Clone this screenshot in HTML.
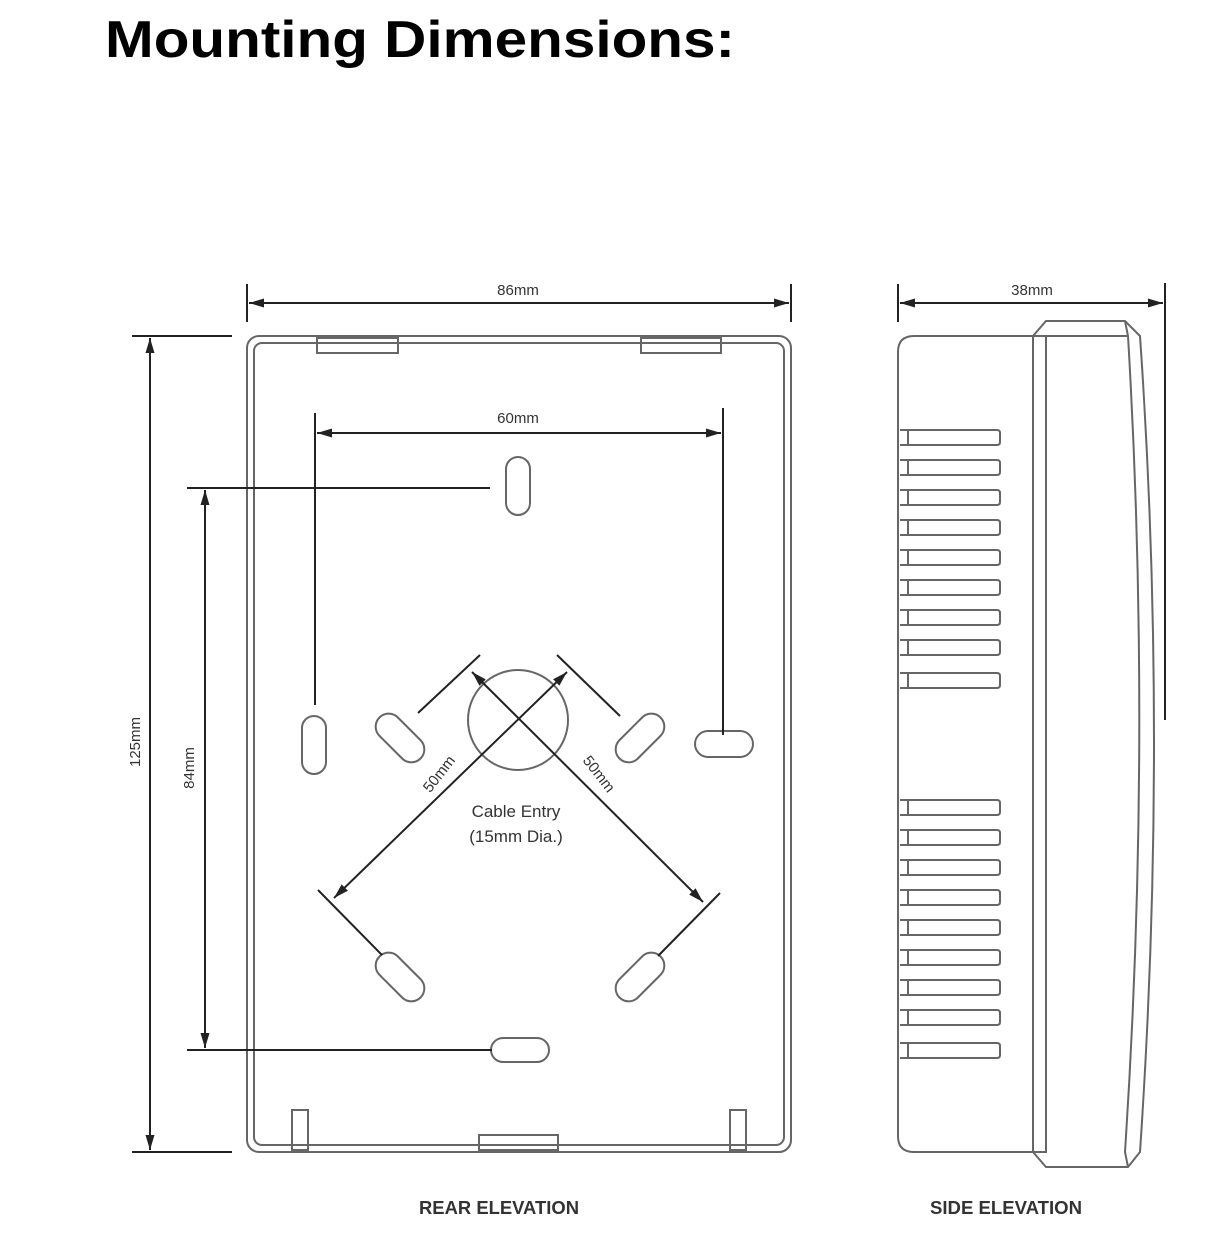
<!DOCTYPE html>
<html><head><style>
body{margin:0;background:#fff;width:1230px;height:1244px;overflow:hidden}
svg{display:block}
</style></head><body>
<svg width="1230" height="1244" viewBox="0 0 1230 1244" xmlns="http://www.w3.org/2000/svg">
<defs>
<marker id="a" viewBox="0 0 10 6" refX="10" refY="3" markerWidth="24" markerHeight="9" markerUnits="userSpaceOnUse" orient="auto-start-reverse"><path d="M0,0 L10,3 L0,6z" fill="#222"/></marker>
</defs>
<text x="105" y="57" font-family="Liberation Sans, sans-serif" font-weight="bold" font-size="52" fill="#000" textLength="630" lengthAdjust="spacingAndGlyphs">Mounting Dimensions:</text>
<g fill="none" stroke="#666" stroke-width="2">
<rect x="247" y="336" width="544" height="816" rx="12"/>
<rect x="254" y="343" width="530" height="802" rx="8"/>
<rect x="317" y="338" width="81" height="15"/>
<rect x="641" y="338" width="80" height="15"/>
<rect x="479" y="1135" width="79" height="15"/>
<rect x="292" y="1110" width="16" height="40"/>
<rect x="730" y="1110" width="16" height="40"/>
<rect x="506" y="457" width="24" height="58" rx="12"/>
<rect x="491" y="1038" width="58" height="24" rx="12"/>
<rect x="302" y="716" width="24" height="58" rx="12"/>
<rect x="695" y="731" width="58" height="26" rx="13"/>
<rect x="371" y="725" width="58" height="26" rx="13" transform="rotate(45 400 738)"/>
<rect x="611" y="725" width="58" height="26" rx="13" transform="rotate(-45 640 738)"/>
<rect x="371" y="964" width="58" height="26" rx="13" transform="rotate(45 400 977)"/>
<rect x="611" y="964" width="58" height="26" rx="13" transform="rotate(-45 640 977)"/>
<circle cx="518" cy="720" r="50"/>
</g>
<g stroke="#222" stroke-width="2" fill="none">
<line x1="247" y1="284" x2="247" y2="322"/><line x1="791" y1="284" x2="791" y2="322"/>
<line x1="249" y1="303" x2="789" y2="303" marker-start="url(#a)" marker-end="url(#a)"/>
<line x1="315" y1="413" x2="315" y2="705"/><line x1="723" y1="408" x2="723" y2="735"/>
<line x1="317" y1="433" x2="721" y2="433" marker-start="url(#a)" marker-end="url(#a)"/>
<line x1="132" y1="336" x2="232" y2="336"/><line x1="132" y1="1152" x2="232" y2="1152"/>
<line x1="150" y1="338" x2="150" y2="1150" marker-start="url(#a)" marker-end="url(#a)"/>
<line x1="187" y1="488" x2="490" y2="488"/><line x1="187" y1="1050" x2="492" y2="1050"/>
<line x1="205" y1="490" x2="205" y2="1048" marker-start="url(#a)" marker-end="url(#a)"/>
<line x1="567" y1="672" x2="334" y2="898" marker-start="url(#a)" marker-end="url(#a)"/>
<line x1="472" y1="672" x2="703" y2="902" marker-start="url(#a)" marker-end="url(#a)"/>
<line x1="418" y1="713" x2="480" y2="655"/>
<line x1="557" y1="655" x2="620" y2="716"/>
<line x1="318" y1="890" x2="382" y2="955"/>
<line x1="720" y1="893" x2="658" y2="956"/>
<line x1="898" y1="284" x2="898" y2="322"/><line x1="1165" y1="283" x2="1165" y2="720"/>
<line x1="900" y1="303" x2="1163" y2="303" marker-start="url(#a)" marker-end="url(#a)"/>
</g>
<g font-family="Liberation Sans, sans-serif" font-size="15" fill="#333" text-anchor="middle">
<text x="518" y="295">86mm</text>
<text x="518" y="423">60mm</text>
<text x="1032" y="295">38mm</text>
<text transform="translate(140 742) rotate(-90)">125mm</text>
<text transform="translate(194 768) rotate(-90)">84mm</text>
<text transform="translate(443 777) rotate(-52)">50mm</text>
<text transform="translate(595 777) rotate(52)">50mm</text>
<text x="516" y="817" font-size="17">Cable Entry</text>
<text x="516" y="842" font-size="17">(15mm Dia.)</text>
<text x="499" y="1214" font-size="18" font-weight="bold" textLength="160" lengthAdjust="spacingAndGlyphs">REAR ELEVATION</text>
<text x="1006" y="1214" font-size="18" font-weight="bold" textLength="152" lengthAdjust="spacingAndGlyphs">SIDE ELEVATION</text>
</g>
<g fill="none" stroke="#666" stroke-width="2">
<path d="M1033,336 H914 Q898,336 898,352 V1136 Q898,1152 914,1152 H1033"/>
<rect x="1033" y="336" width="13" height="816"/>
<path d="M1033,336 L1046,321 H1125 L1140,336 Q1168,740 1140,1152 L1128,1167 H1046 L1033,1152"/>
<path d="M1125,321 L1128,336 Q1152,740 1125,1152 L1128,1167"/>
<path d="M1046,336 H1128"/>
<g id="fins">
<path d="M900,430 H997 Q1000,430 1000,433 V442 Q1000,445 997,445 H900 M908,430 V445"/>
</g>
<use href="#fins" y="30"/><use href="#fins" y="60"/><use href="#fins" y="90"/><use href="#fins" y="120"/><use href="#fins" y="150"/><use href="#fins" y="180"/><use href="#fins" y="210"/><use href="#fins" y="243"/>
<use href="#fins" y="370"/><use href="#fins" y="400"/><use href="#fins" y="430"/><use href="#fins" y="460"/><use href="#fins" y="490"/><use href="#fins" y="520"/><use href="#fins" y="550"/><use href="#fins" y="580"/><use href="#fins" y="613"/>
</g>
</svg>
</body></html>
